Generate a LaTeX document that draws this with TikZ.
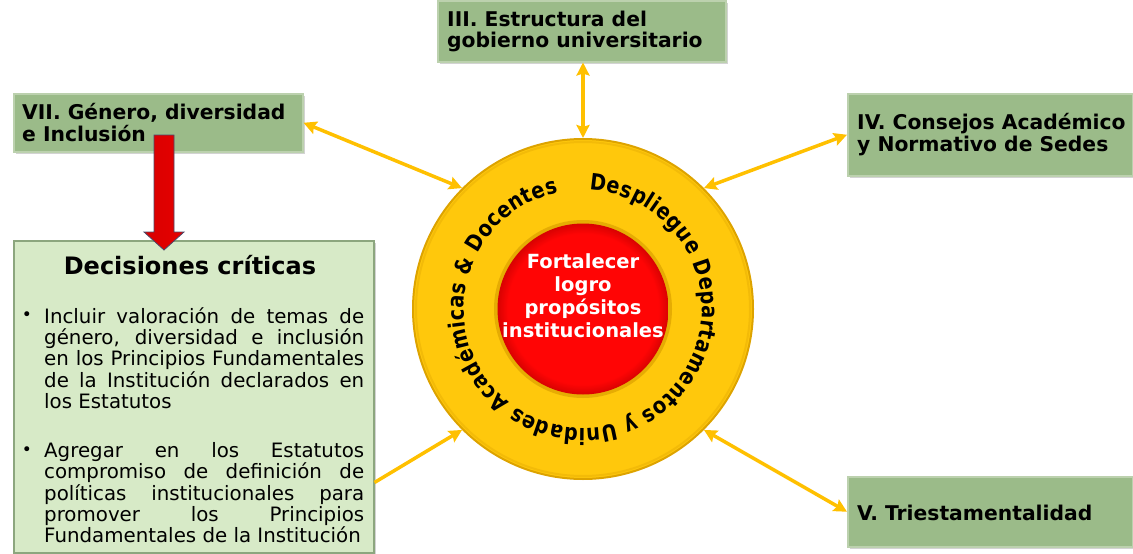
\documentclass[tikz,border=0pt]{standalone}
\usepackage{fontspec}
\setmainfont{DejaVu Sans}
\newfontfamily\ringfont[FakeStretch=0.86]{DejaVu Sans}
\usetikzlibrary{calc,positioning,arrows.meta,shadows,decorations.text}

\definecolor{boxgreen}{HTML}{9BBB89}
\definecolor{boxrim}{HTML}{BCD1AE}
\definecolor{decgreen}{HTML}{D7EAC7}
\definecolor{decrim}{HTML}{8CA67E}
\definecolor{linkgold}{HTML}{FFC000}
\definecolor{ringgold}{HTML}{FFC80C}
\definecolor{ringrim}{HTML}{DDA300}
\definecolor{hubred}{HTML}{FF0505}
\definecolor{hubdark}{HTML}{C80000}
\definecolor{droprim}{HTML}{4A4A6A}

\pgfdeclareradialshading{corered}{\pgfpoint{0bp}{0bp}}{%
  color(0bp)=(hubred); color(22bp)=(hubred); color(25bp)=(hubdark!70!hubred); color(50bp)=(hubdark!70!hubred)}

\newcommand{\fillline}[1]{\makebox[320pt][s]{#1}}

\tikzset{
  gbox/.style={draw=boxrim, line width=1.5pt, fill=boxgreen, anchor=north west,
    inner sep=0pt, drop shadow={shadow xshift=2pt, shadow yshift=-2pt, opacity=0.35}},
  gtext/.style={anchor=west, align=left, inner sep=0pt,
    font=\bfseries\fontsize{20.3}{21.5}\selectfont},
  decbox/.style={draw=decrim, line width=1.5pt, fill=decgreen, anchor=north west,
    inner sep=0pt, drop shadow={shadow xshift=2pt, shadow yshift=-2pt, opacity=0.35}},
  itemtext/.style={anchor=north west, align=left, inner sep=0pt,
    font=\fontsize{19.8}{21.4}\selectfont},
  dot/.style={inner sep=0pt, font=\fontsize{17}{17}\selectfont},
  link/.style={linkgold, line width=3.5pt,
    {Stealth[length=13pt,width=13pt,inset=2pt]}-{Stealth[length=13pt,width=13pt,inset=2pt]}},
  onelink/.style={linkgold, line width=3.5pt, -{Stealth[length=13pt,width=13pt,inset=2pt]}}
}

\begin{document}
\begin{tikzpicture}[x=1pt,y=-1pt]
  \useasboundingbox (0,0) rectangle (1133,554);

  %% the ring in the middle
  \node[circle, minimum size=340pt, inner sep=0pt, fill=ringgold, draw=ringrim, line width=2pt] (hub) at (583,309) {};
  \node[circle, minimum size=334pt, inner sep=0pt, draw=ringrim!35!ringgold, line width=2pt] (hubbevel) at (hub) {};
  \node[circle, minimum size=178pt, inner sep=0pt, fill=ringrim!75!ringgold] (corerim) at (hub) {};
  \node[circle, minimum size=171pt, inner sep=0pt, shading=corered] (core) at (hub) {};
  \node[align=center, text=white, inner sep=0pt, font=\bfseries\fontsize{19.5}{23}\selectfont] (aim) at (583,296)
    {Fortalecer\\logro\\propósitos\\institucionales};

  \begin{scope}[shift={(hub.center)}, x=1pt, y=1pt]
    \path[decorate, decoration={text along path, text align={fit to path},
      text={|\ringfont\bfseries\fontsize{22.5}{23}\selectfont|Despliegue Departamentos y Unidades Académicas {\&} Docentes}}]
      (87:119) arc[start angle=87, end angle=-258, radius=119];
  \end{scope}

  %% green boxes round it
  \node[gbox, minimum width=288pt, minimum height=61pt] (iii) at (437,0) {};
  \node[gtext] (iiitxt) at ([xshift=10pt]iii.west) {III. Estructura del\\gobierno universitario};

  \node[gbox, minimum width=289pt, minimum height=58pt] (vii) at (13,93) {};
  \node[gtext] (viitxt) at ([xshift=9pt]vii.west) {VII. Género, diversidad\\e Inclusión};

  \node[gbox, minimum width=285pt, minimum height=82pt] (iv) at (847,93) {};
  \node[gtext] (ivtxt) at ([xshift=10pt]iv.west) {IV. Consejos Académico\\y Normativo de Sedes};

  \node[gbox, minimum width=285pt, minimum height=70pt] (v) at (847,476) {};
  \node[gtext] (vtxt) at ([xshift=10pt, yshift=-1pt]v.west) {V. Triestamentalidad};

  %% decisions
  \node[decbox, minimum width=360pt, minimum height=312pt] (dec) at (13,240) {};
  \node[inner sep=0pt, font=\bfseries\fontsize{24}{26}\selectfont] (dectitle) at (190,265) {Decisiones críticas};
  \node[dot] (dotone) at (27,316) {•};
  \node[itemtext] (itemone) at (44,307)
    {\fillline{Incluir valoración de temas de}\\
     \fillline{género, diversidad e inclusión}\\
     \fillline{en los Principios Fundamentales}\\
     \fillline{de la Institución declarados en}\\
     los Estatutos};
  \node[dot] (dottwo) at (27,451) {•};
  \node[itemtext] (itemtwo) at (44,442)
    {\fillline{Agregar en los Estatutos}\\
     \fillline{compromiso de definición de}\\
     \fillline{políticas institucionales para}\\
     \fillline{promover los Principios}\\
     Fundamentales de la Institución};

  %% red arrow from VII down to the decisions
  \coordinate (droptop) at (164,135);
  \coordinate (droptip) at (164,250);
  \shade[left color=red!85!black, middle color=red!75!white, right color=red!90!black, draw=droprim, line width=0.8pt]
    ($(droptop)+(-10,0)$) -- ($(droptop)+(10,0)$) -- ($(droptip)+(10,-18)$) -- ($(droptip)+(20,-18)$)
    -- (droptip) -- ($(droptip)+(-20,-18)$) -- ($(droptip)+(-10,-18)$) -- cycle;

  %% gold links
  \coordinate (decout) at ([yshift=71pt]dec.south east);
  \draw[link] (vii.east) -- (hub.135);
  \draw[link] (iii.south -| hub.north) -- (hub.north);
  \draw[link] (iv.west) -- (hub.45);
  \draw[link] (v.west) -- (hub.-45);
  \draw[onelink] (decout) -- (hub.-135);
\end{tikzpicture}
\end{document}
